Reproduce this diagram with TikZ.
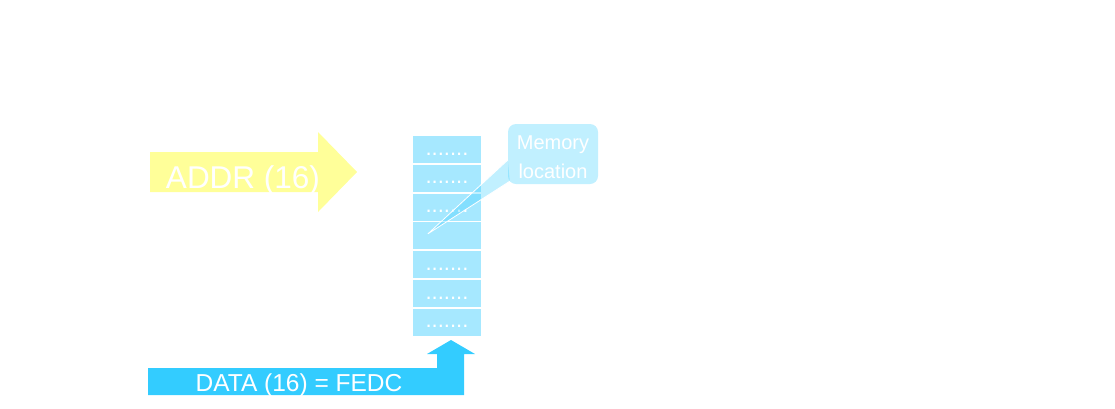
\documentclass[tikz,border=0pt]{standalone}
\usepackage{fontspec}
\setmainfont{Liberation Sans}
\usepackage{tikz}
\usetikzlibrary{arrows.meta,positioning,calc}
\definecolor{addrYellow}{RGB}{255,255,153}
\definecolor{cellCyan}{RGB}{166,232,255}
\definecolor{dataBlue}{RGB}{51,204,255}

\begin{document}
\begin{tikzpicture}[x=1pt,y=-1pt,
cell/.style={fill=cellCyan,minimum width=68pt,minimum height=27pt,inner sep=0pt,text=white,font=\fontsize{22}{22}\selectfont,text height=11pt,text depth=0pt},
bubble/.style={fill=dataBlue,fill opacity=0.3,rounded corners=8pt,minimum width=90pt,minimum height=60pt},
bubbletext/.style={text=white,align=center,inner sep=0pt,font=\fontsize{20}{29}\selectfont},
lbl/.style={text=white,anchor=base,inner sep=0pt}
]
\useasboundingbox (0,0) rectangle (1115,408);
% memory column
\node[cell] (r1) at (447,149.5) {.......};
\foreach \x/\y/\t in {r1/r2/{.......},r2/r3/{.......},r3/r4/{},r4/r5/{.......},r5/r6/{.......},r6/r7/{.......}}
\node[cell,below=1.4pt of \x] (\y) {\t};
% address bus
\fill[addrYellow] (150,152) -- (318,152) -- (318,132) -- (357,172) -- (318,212) -- (318,192) -- (150,192) -- cycle;
\node[lbl,font=\fontsize{31.5}{31.5}\selectfont] (addr) at (243,188) {ADDR (16)};
% data bus
\fill[dataBlue] (148,368) -- (437,368) -- (437,354) -- (427,354) -- (451,340) -- (475,354) -- (464,354) -- (464,395) -- (148,395) -- cycle;
\node[lbl,font=\fontsize{24.5}{24.5}\selectfont] (data) at (299,391) {DATA (16) = FEDC};
% callout
\node[bubble] (memloc) at (553,154) {};
\node[bubbletext] (memtxt) at ($(memloc.center)+(0,3)$) {Memory\\location};
\coordinate (ptr) at ($(r4.west)+(15,-2)$);
\coordinate (b1) at ($(memloc.west)+(0,6)$);
\coordinate (b2) at ($(memloc.south west)+(2,-3)$);
\fill[dataBlue,fill opacity=0.3] (b1) -- (ptr) -- (b2) -- cycle;
\draw[white,line width=0.8pt] (b1) -- (ptr) -- (b2);
\end{tikzpicture}
\end{document}
